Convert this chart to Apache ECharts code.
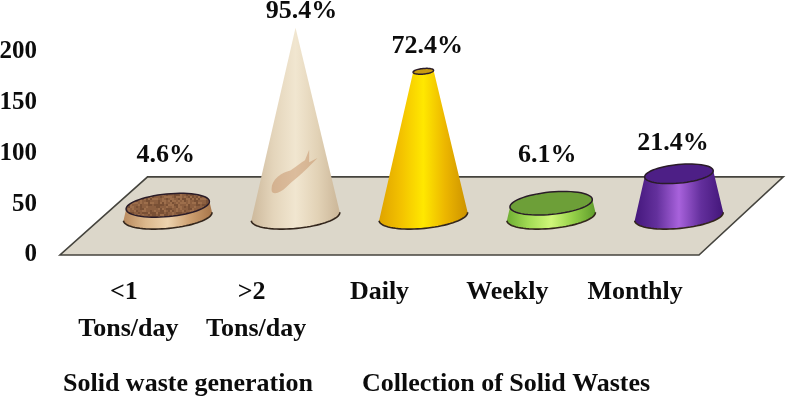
<!DOCTYPE html>
<html>
<head>
<meta charset="utf-8">
<style>html,body{margin:0;padding:0;background:#fff}#c{width:786px;height:396px}</style>
<script src="https://cdn.jsdelivr.net/npm/echarts@6/dist/echarts.min.js"></script>
</head>
<body>
<div id="c"></div>
<script>
// ---- data ----
var categories = ['<1\nTons/day', '>2\nTons/day', 'Daily', 'Weekly', 'Monthly'];
var values = [11, 186, 143, 13, 42];
var percentLabels = ['4.6%', '95.4%', '72.4%', '6.1%', '21.4%'];
var yTicks = [0, 50, 100, 150, 200];
var groupLabels = ['Solid waste generation', 'Collection of Solid Wastes'];

// ---- styling / layout (not data) ----
var FONT = '"Liberation Serif", "Times New Roman", serif';
var INK = '#0c0c0c';
var EDGE = '#33261c';
var FLOOR_DEPTH = 77;      // back edge of the floor, in axis units
var BASE_LEVEL = 38;       // where the solids stand on the floor, in axis units
var DEPTH_SHIFT = 0.343;   // solids sit this many bands right of the tick label
var RADIUS = 0.348;        // base radius, in bands
var SQUASH = 0.27;
var TILT = -5.5 * Math.PI / 180;
var labelNudge = [[-2, -50], [6, -16], [4, -25], [-4, -48], [-6, -31]];

// mottled cork texture for the small brown disc
function corkTexture() {
  var c = document.createElement('canvas');
  c.width = c.height = 48;
  var g = c.getContext('2d');
  g.fillStyle = '#8c5f40';
  g.fillRect(0, 0, 48, 48);
  for (var x = 0; x < 48; x += 2) {
    for (var y = 0; y < 48; y += 2) {
      var h = Math.sin(x * 12.9898 + y * 78.233) * 43758.5453;
      h = h - Math.floor(h);
      g.fillStyle = h > 0.66 ? 'rgba(178,128,88,0.45)' : h < 0.3 ? 'rgba(80,48,30,0.3)' : 'rgba(0,0,0,0)';
      g.fillRect(x, y, 2, 2);
    }
  }
  return c;
}
var skins = [
  {top: {image: corkTexture(), repeat: 'repeat'}, stops: ['#b98a5e', '#dcb88c', '#edd3ae', '#cda071', '#a8764a']},
  {top: '#e8d8bd', stops: ['#cdb99c', '#e4d5bb', '#f1e6d0', '#e2d2b6', '#cbb698']},
  {top: '#c99b12', stops: ['#dfa300', '#f3c200', '#ffe800', '#ecb600', '#cc9200']},
  {top: '#6d9f38', stops: ['#6fae33', '#a3dc55', '#d0f77a', '#94cf48', '#5f9c2c']},
  {top: '#4d1f86', stops: ['#44177c', '#63309c', '#a862dc', '#632f9c', '#43167a']}
];

function ellipsePoints(cx, cy, rx, ry, from, to, n) {
  var pts = [], cos = Math.cos(TILT), sin = Math.sin(TILT);
  for (var i = 0; i <= n; i++) {
    var t = from + (to - from) * i / n;
    var x = rx * Math.cos(t), y = ry * Math.sin(t);
    pts.push([cx + x * cos - y * sin, cy + x * sin + y * cos]);
  }
  return pts;
}

function renderFloor(params, api) {
  var bw = api.size([1, 0])[0];
  var fl = api.coord([0, 0]), fr = api.coord([categories.length - 1, 0]);
  var back = api.coord([0, FLOOR_DEPTH])[1];
  return {
    type: 'polygon',
    shape: {points: [
      [fl[0] - bw / 2, fl[1]],
      [fr[0] + bw / 2, fr[1]],
      [fr[0] + bw / 2 + 0.66 * bw, back],
      [fl[0] - bw / 2 + 0.685 * bw, back]
    ]},
    style: {fill: '#dcd7ca', stroke: '#45443e', lineWidth: 1.6}
  };
}

function renderSolid(params, api) {
  var i = api.value(0), v = api.value(1);
  var bw = api.size([1, 0])[0];
  var maxV = Math.max.apply(null, values);
  var cx = api.coord([i, 0])[0] + DEPTH_SHIFT * bw;
  var baseY = api.coord([i, BASE_LEVEL])[1];
  var topY = baseY - (api.coord([i, 0])[1] - api.coord([i, v])[1]);
  var rb = RADIUS * bw, rt = rb * (1 - v / maxV);
  var skin = skins[i];
  var lower = ellipsePoints(cx, baseY, rb, rb * SQUASH, 0, Math.PI, 40);
  var upper = ellipsePoints(cx, topY, rt, rt * SQUASH, Math.PI, 2 * Math.PI, 40);
  var n = skin.stops.length;
  var fill = new echarts.graphic.LinearGradient(0, 0, 1, 0, skin.stops.map(function (c, k) {
    return {offset: k / (n - 1), color: c};
  }));
  var children = [
    {type: 'polygon', shape: {points: lower.concat(upper)}, style: {fill: fill}},
    {type: 'polyline', shape: {points: lower}, style: {fill: 'none', stroke: EDGE, lineWidth: 1.6}}
  ];
  if (rt > 1) {
    children.push({
      type: 'polygon',
      shape: {points: ellipsePoints(cx, topY, rt, rt * SQUASH, 0, 2 * Math.PI, 60)},
      style: {fill: skin.top, stroke: '#2a1c28', lineWidth: 1.5}
    });
  }
  if (i === 1) {
    // faint fossil mark on the tall cone
    var fy = baseY - 36;
    children.push({
      type: 'path',
      shape: {
        pathData: 'M-22 10C-22 0-12-6-4-8C2-12 6-16 10-18L14-28L14-16L22-20L12-10C6-4-2 2-8 8C-14 14-22 16-22 10Z',
        x: cx - 24, y: fy - 32, width: 46, height: 46
      },
      style: {fill: 'rgba(190,130,85,0.42)'}
    });
  }
  children.push({
    type: 'text',
    style: {
      text: percentLabels[i],
      x: cx + labelNudge[i][0],
      y: topY + labelNudge[i][1],
      align: 'center', verticalAlign: 'middle',
      font: 'bold 26px ' + FONT,
      fill: INK
    }
  });
  return {type: 'group', children: children};
}

var chart = echarts.init(document.getElementById('c'), null, {renderer: 'canvas'});
chart.setOption({
  animation: false,
  backgroundColor: '#ffffff',
  grid: {left: 60, right: 87, top: 52, bottom: 141, containLabel: false, outerBoundsMode: 'none'},
  xAxis: {
    type: 'category',
    data: categories,
    axisLine: {show: false},
    axisTick: {show: false},
    splitLine: {show: false},
    axisLabel: {
      interval: 0, margin: 19, color: INK, fontFamily: FONT, fontWeight: 'bold',
      fontSize: 26, lineHeight: 37, verticalAlign: 'top',
      formatter: function (v) {
        var parts = v.split('\n');
        return parts.length > 1 ? parts[0] + '\n{second|' + parts[1] + '}' : v;
      },
      rich: {
        second: {
          padding: [0, 0, 0, 9], color: INK, fontFamily: FONT, fontWeight: 'bold',
          fontSize: 26, lineHeight: 37
        }
      }
    }
  },
  yAxis: {
    type: 'value',
    min: yTicks[0],
    max: yTicks[yTicks.length - 1],
    interval: yTicks[1] - yTicks[0],
    axisLine: {show: false},
    axisTick: {show: false},
    splitLine: {show: false},
    axisLabel: {margin: 23, color: INK, fontFamily: FONT, fontWeight: 'bold', fontSize: 25}
  },
  series: [
    {type: 'custom', renderItem: renderFloor, data: [[0, 0]], encode: {x: 0, y: 1}, silent: true, z: 1},
    {
      type: 'custom', renderItem: renderSolid,
      data: values.map(function (v, i) { return [i, v]; }),
      encode: {x: 0, y: 1}, clip: false, z: 2
    }
  ],
  graphic: groupLabels.map(function (t, i) {
    return {
      type: 'text', left: i === 0 ? 63 : 362, top: 371,
      style: {text: t, font: 'bold 26px ' + FONT, fill: INK}
    };
  })
});
</script>
</body>
</html>
